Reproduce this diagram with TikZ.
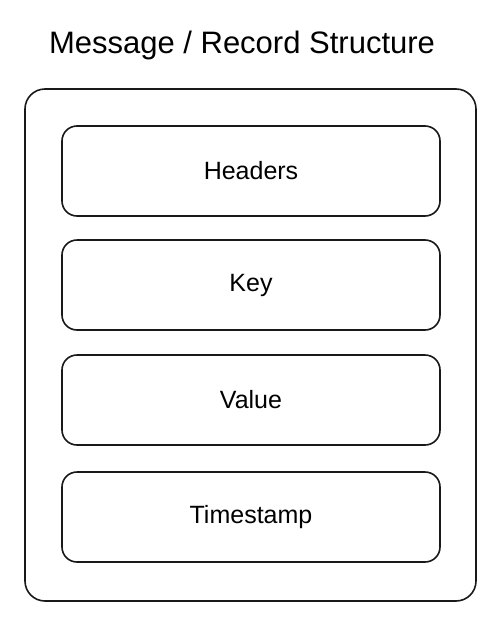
\documentclass[tikz,border=0pt]{standalone}
\usepackage{fontspec}
\setmainfont{Liberation Sans}
\begin{document}
\begin{tikzpicture}[x=1pt,y=-1pt,
  outerbox/.style={draw=black!90, line width=1.6pt, rounded corners=20pt, minimum width=451pt, minimum height=512pt, inner sep=0pt},
  fieldbox/.style={draw=black!90, line width=1.6pt, rounded corners=15pt, minimum width=378pt, minimum height=90pt, inner sep=0pt, font=\fontsize{25}{28}\selectfont},
  titletext/.style={font=\fontsize{31}{34}\selectfont, inner sep=0pt}]
\useasboundingbox (0,0) rectangle (501,624);
\node[titletext] (title) at (242,45) {Message / Record Structure};
\node[outerbox] (outer) at (250.5,345) {};
\node[fieldbox] (headers) at (251,171) {Headers};
\node[fieldbox] (key) at (251,285) {Key};
\node[fieldbox] (value) at (251,400) {Value};
\node[fieldbox] (timestamp) at (251,517) {Timestamp};
\end{tikzpicture}
\end{document}
